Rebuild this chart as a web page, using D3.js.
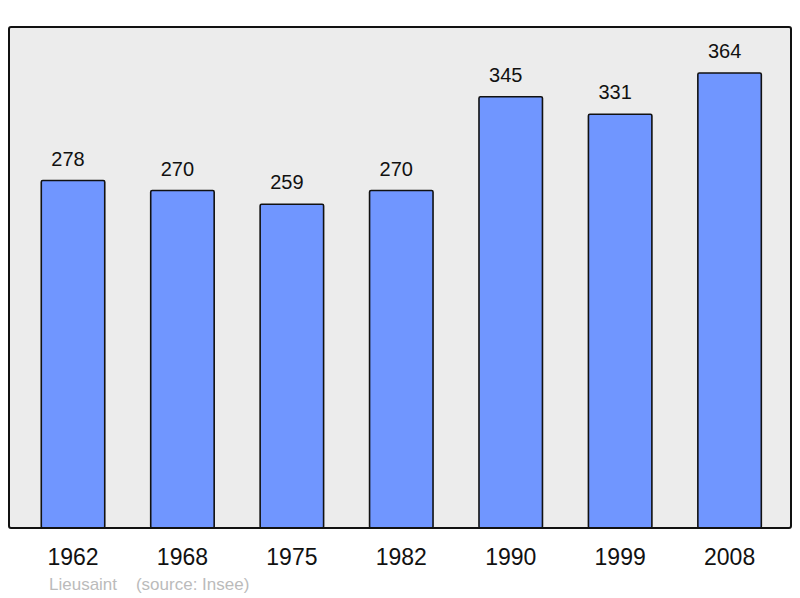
<!DOCTYPE html>
<html>
<head>
<meta charset="utf-8">
<script src="https://cdn.jsdelivr.net/npm/d3@7"></script>
<style>
  body { margin: 0; background: #fff; }
  svg { display: block; font-family: "Liberation Sans", Arial, sans-serif; }
</style>
</head>
<body>
<svg id="chart" width="800" height="598"></svg>
<script>
'use strict';

var years = ['1962', '1968', '1975', '1982', '1990', '1999', '2008'];
var population = [278, 270, 259, 270, 345, 331, 364];
var town = 'Lieusaint';
var source = '(source: Insee)';

var svg = d3.select('#chart');

// plot frame
var frame = {left: 9, top: 27, right: 791, bottom: 528};

svg.append('rect')
  .attr('x', frame.left)
  .attr('y', frame.top)
  .attr('width', frame.right - frame.left)
  .attr('height', frame.bottom - frame.top)
  .attr('rx', 2)
  .attr('fill', '#ececec');

var x = d3.scaleBand()
  .domain(years)
  .range([18.3, 784.3])
  .paddingInner(0.42)
  .paddingOuter(0.21);

var y = d3.scaleLinear()
  .domain([0, 400.8])
  .range([frame.bottom, frame.top]);

// bars
svg.selectAll('.bar')
  .data(population)
  .enter().append('rect')
    .attr('class', 'bar')
    .attr('x', function(d, i) { return x(years[i]); })
    .attr('width', x.bandwidth())
    .attr('y', function(d) { return y(d); })
    .attr('height', function(d) { return frame.bottom - y(d); })
    .attr('rx', 1.5)
    .attr('fill', '#7096ff')
    .attr('stroke', '#111')
    .attr('stroke-width', 1.6);

// value labels (sit a little left of the bar centre, like the original)
svg.selectAll('.val')
  .data(population)
  .enter().append('text')
    .attr('class', 'val')
    .attr('x', function(d, i) { return x(years[i]) + x.bandwidth() / 2 - 5; })
    .attr('y', function(d) { return y(d) - 15; })
    .attr('text-anchor', 'middle')
    .attr('font-size', 20)
    .attr('fill', '#111')
    .text(function(d) { return d; });

// frame border on top
svg.append('rect')
  .attr('x', frame.left)
  .attr('y', frame.top)
  .attr('width', frame.right - frame.left)
  .attr('height', frame.bottom - frame.top)
  .attr('rx', 2)
  .attr('fill', 'none')
  .attr('stroke', '#111')
  .attr('stroke-width', 2);

// x axis labels
var xAxis = svg.append('g')
  .attr('class', 'xaxis')
  .attr('transform', 'translate(0,' + frame.bottom + ')')
  .call(d3.axisBottom(x).tickSize(0));

xAxis.select('.domain').remove();
xAxis.selectAll('text')
  .attr('y', 37)
  .attr('dy', null)
  .attr('font-size', 23)
  .attr('font-family', '"Liberation Sans", Arial, sans-serif')
  .attr('fill', '#111');

// caption
svg.append('text')
  .attr('x', 49)
  .attr('y', 590)
  .attr('font-size', 17)
  .attr('fill', '#bbbbbb')
  .attr('xml:space', 'preserve')
  .text(town + '    ' + source);
</script>
</body>
</html>
